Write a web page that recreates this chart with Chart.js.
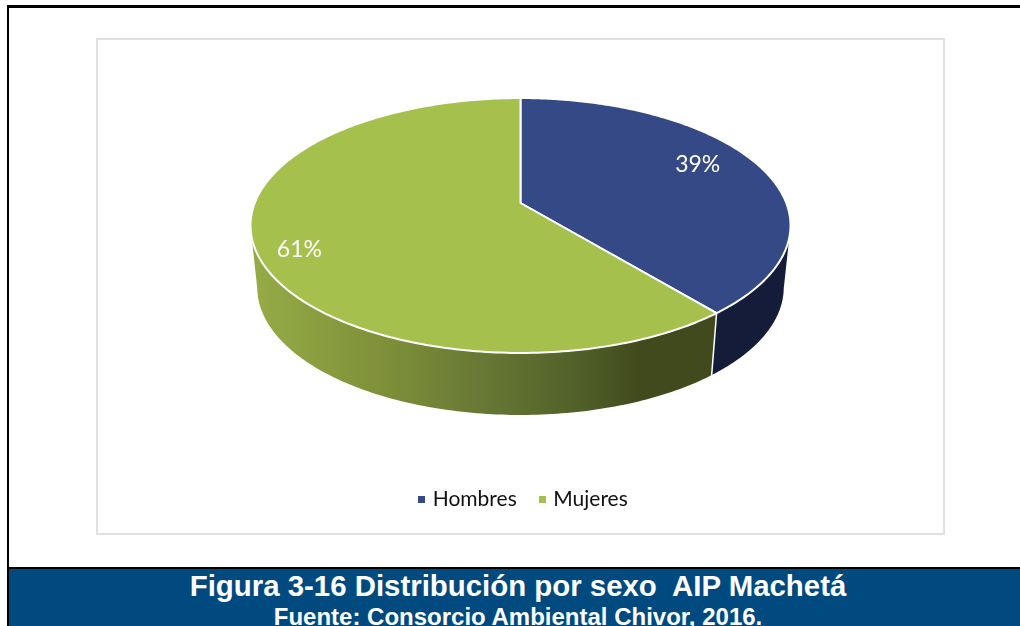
<!DOCTYPE html>
<html>
<head>
<meta charset="utf-8">
<script src="https://cdn.jsdelivr.net/npm/chart.js@4"></script>
<style>
html,body{margin:0;padding:0;background:#fff;width:1020px;height:626px;overflow:hidden}
#top{position:absolute;left:7px;top:5px;width:1013px;height:3px;background:#000}
#left{position:absolute;left:7px;top:5px;width:2px;height:621px;background:#000}
#box{position:absolute;left:96px;top:38px;width:845px;height:493px;border:2px solid #e0e0e0;background:#fff}
#chart{position:absolute;left:100px;top:38px}
#band{position:absolute;left:9px;top:567px;width:1011px;height:57px;border-top:2px solid #000;background:#004a80;overflow:hidden}
#t1{position:absolute;left:0;width:1018px;top:0;text-align:center;font:bold 29.4px/34px "Liberation Sans",Arial,sans-serif;color:#fff;white-space:pre}
#t2{position:absolute;left:0;width:1018px;top:34px;text-align:center;font:bold 24px/28px "Liberation Sans",Arial,sans-serif;color:#fff;white-space:pre}
</style>
</head>
<body>
<div id="top"></div><div id="left"></div><div id="box"></div>
<canvas id="chart" width="849" height="497"></canvas>
<div id="band"><div id="t1">Figura 3-16 Distribución por sexo  AIP Machetá</div><div id="t2">Fuente: Consorcio Ambiental Chivor, 2016.</div></div>
<script>
const categories = ['Hombres', 'Mujeres'];
const values = [39, 61];
const faceColors = ['#344985', '#a6c04d'];

const PIE_DX = -4, APEX_Y = 165, K = -0.1765, SX = 2.531, SY = 1.176, DEPTH = 62, LOW_X = 0.975, STEPS = 240;
const LABEL_F = [0.74, 0.84], LABEL_DY = [-9, 10];

function project(cx, R, theta, f, low) {
  const u = Math.cos(theta) * f, v = Math.sin(theta) * f, d = 1 + K * v;
  return [cx + PIE_DX + SX * R * u / d * (low ? LOW_X : 1), APEX_Y + SY * R * v / d + (low ? DEPTH : 0)];
}
function wallFill(ctx, i) {
  if (i === 0) return '#141c3a';
  const g = ctx.createLinearGradient(155, 0, 540, 0);
  g.addColorStop(0, '#95ab46');
  g.addColorStop(0.33, '#7f9039');
  g.addColorStop(0.59, '#687835');
  g.addColorStop(0.85, '#505f28');
  g.addColorStop(1, '#414a1c');
  return g;
}
function swatch(color) {
  const c = document.createElement('canvas');
  c.width = 7; c.height = 7;
  const x = c.getContext('2d');
  x.fillStyle = color; x.fillRect(0, 0, 7, 7);
  return c;
}
const pie3d = {
  id: 'pie3d',
  beforeDatasetDraw(chart) {
    const ctx = chart.ctx, arcs = chart.getDatasetMeta(0).data;
    ctx.save();
    arcs.forEach((a, i) => {
      const pts = [];
      for (let s = 0; s <= STEPS; s++) {
        const t = a.startAngle + (a.endAngle - a.startAngle) * s / STEPS;
        if (Math.sin(t) > 0.18) pts.push(t);
      }
      ctx.beginPath();
      pts.forEach((t, n) => { const p = project(a.x, a.outerRadius, t, 1, false); n ? ctx.lineTo(p[0], p[1]) : ctx.moveTo(p[0], p[1]); });
      pts.slice().reverse().forEach(t => { const p = project(a.x, a.outerRadius, t, 1, true); ctx.lineTo(p[0], p[1]); });
      ctx.closePath();
      ctx.fillStyle = wallFill(ctx, i);
      ctx.fill();
    });
    const seam = arcs[0].endAngle, a0 = arcs[0];
    const p1 = project(a0.x, a0.outerRadius, seam, 1, false), p2 = project(a0.x, a0.outerRadius, seam, 1, true);
    ctx.strokeStyle = '#fff'; ctx.lineWidth = 1.5;
    ctx.beginPath(); ctx.moveTo(p1[0], p1[1]); ctx.lineTo(p2[0], p2[1]); ctx.stroke();
    arcs.forEach((a, i) => {
      ctx.beginPath();
      const c = project(a.x, a.outerRadius, 0, 0, false);
      ctx.moveTo(c[0], c[1]);
      for (let s = 0; s <= STEPS; s++) {
        const p = project(a.x, a.outerRadius, a.startAngle + (a.endAngle - a.startAngle) * s / STEPS, 1, false);
        ctx.lineTo(p[0], p[1]);
      }
      ctx.closePath();
      ctx.fillStyle = faceColors[i];
      ctx.fill();
      ctx.strokeStyle = '#fff'; ctx.lineWidth = 2; ctx.lineJoin = 'round';
      ctx.stroke();
    });
    const total = values.reduce((x, y) => x + y, 0);
    ctx.fillStyle = '#fff';
    ctx.font = '23px Lato, sans-serif';
    ctx.textAlign = 'center'; ctx.textBaseline = 'middle';
    arcs.forEach((a, i) => {
      const p = project(a.x, a.outerRadius, (a.startAngle + a.endAngle) / 2, LABEL_F[i], false);
      ctx.fillText(Math.round(values[i] / total * 100) + '%', p[0], p[1] + LABEL_DY[i]);
    });
    ctx.restore();
    return false;
  }
};

new Chart(document.getElementById('chart'), {
  type: 'pie',
  data: { labels: categories, datasets: [{ data: values, backgroundColor: faceColors, borderColor: '#fff', borderWidth: 2, radius: 105 }] },
  options: {
    responsive: false,
    animation: false,
    devicePixelRatio: 1,
    layout: { padding: { bottom: 15 } },
    plugins: {
      tooltip: { enabled: false },
      legend: {
        position: 'bottom',
        labels: {
          usePointStyle: true, boxWidth: 1, boxHeight: 7, padding: 25, color: '#111', font: { family: 'Lato, sans-serif', size: 21 },
          generateLabels: chart => Chart.overrides.pie.plugins.legend.labels.generateLabels(chart).map((item, i) => ({ ...item, pointStyle: swatch(faceColors[i]) }))
        }
      }
    }
  },
  plugins: [pie3d]
});
</script>
</body>
</html>
